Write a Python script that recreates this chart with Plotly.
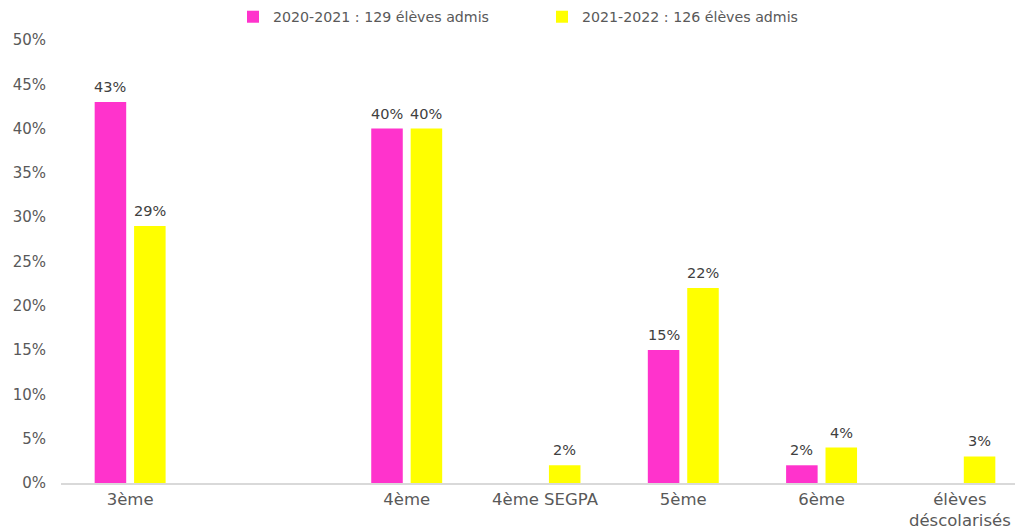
import plotly.graph_objects as go

categories = ["3ème", " ", "4ème", "4ème SEGPA", "5ème", "6ème", "élèves<br>déscolarisés"]
series_2021 = [43, None, 40, None, 15, 2, None]
series_2022 = [29, None, 40, 2, 22, 4, 3]
name_2021 = "2020-2021 : 129 élèves admis"
name_2022 = "2021-2022 : 126 élèves admis"
y_ticks = [0, 5, 10, 15, 20, 25, 30, 35, 40, 45, 50]
y_tick_labels = [f"{v}%" for v in y_ticks]

FONT = "DejaVu Sans, sans-serif"

fig = go.Figure()
series = [(name_2021, series_2021, "#FF33CC", -19.75), (name_2022, series_2022, "#FFFF00", 19.75)]
for name, vals, col, dx in series:
    fig.add_trace(go.Bar(
        x=categories, y=vals, name=name,
        marker=dict(color=col, line=dict(width=0)),
        hoverinfo="x+y",
    ))
    for cat, v in zip(categories, vals):
        if v is None:
            continue
        fig.add_annotation(
            x=cat, y=v, xref="x", yref="y", text=f"{v}%", showarrow=False,
            xshift=dx, yshift=15, yanchor="middle",
            font=dict(color="#404040", size=14.5, family=FONT),
        )

fig.update_layout(
    width=1023, height=528,
    margin=dict(l=53, r=2, t=32, b=53, autoexpand=False),
    paper_bgcolor="white", plot_bgcolor="white",
    barmode="group", bargap=0.43, bargroupgap=0.2,
    font=dict(family=FONT, color="#595959", size=15),
    showlegend=True,
    legend=dict(orientation="h", x=0.5 - 3 / 968, xanchor="center", xref="paper",
                y=1 + 23 / 443, yanchor="middle", yref="paper",
                entrywidth=264, entrywidthmode="pixels",
                font=dict(size=14.2, color="#595959", family=FONT),
                traceorder="normal"),
)
fig.update_xaxes(
    type="category", range=[-0.5, 6.5],
    showline=True, linecolor="#D9D9D9", linewidth=1.5,
    showgrid=False, ticks="", tickfont=dict(size=16.5, color="#595959"),
)
fig.update_yaxes(
    range=[0, 50], tickvals=y_ticks, ticktext=y_tick_labels,
    showgrid=False, zeroline=False, showline=False, ticks="",
    ticklabelstandoff=14, tickfont=dict(size=15, color="#595959"),
)

fig.write_html("out.html")
